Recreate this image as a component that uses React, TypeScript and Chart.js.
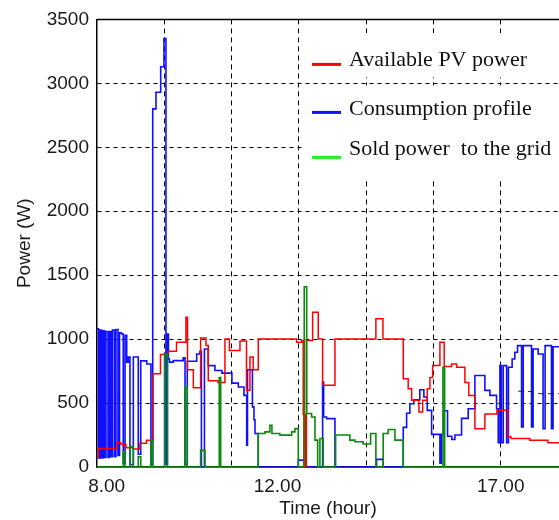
import React, { useEffect, useRef } from "react";
import { Chart, registerables } from "chart.js";

Chart.register(...registerables);

// x values are in sample units (gridline every 60 units)
const pvTime = [0, 1.3, 17.8, 21.4, 25.9, 32.1, 38.3, 44.1, 49.9, 56.6, 63.3, 70.9, 79.3, 80.7, 85.9, 92.4, 97.2, 99.2, 107.9, 114.1, 118.1, 127.5, 133.3, 136.4, 139.3, 143.8, 178.0, 182.5, 183.9, 184.5, 185.2, 185.8, 186.7, 192.3, 197.3, 201.2, 212.2, 248.7, 255.0, 273.1, 277.5, 280.6, 287.1, 290.4, 294.5, 296.9, 299.3, 305.8, 309.6, 316.2, 320.7, 328.1, 331.6, 337.0, 345.9, 356.6, 366.4, 369.1, 386.0, 402.1, 412];
const pvWatts = [80, 145, 190, 175, 150, 140, 185, 210, 730, 880, 905, 975, 1170, 760, 620, 1008, 950, 675, 660, 1000, 910, 985, 600, 860, 760, 1000, 975, 990, 410, 0, 410, 0, 990, 1210, 1000, 640, 1000, 1160, 1000, 690, 612, 521, 430, 521, 612, 700, 793, 975, 785, 806, 780, 660, 560, 300, 415, 443, 236, 223, 210, 190, 190];

const loadTime = [0, 1.3, 2.7, 4.0, 5.3, 6.7, 8.0, 9.8, 11.1, 12.5, 13.8, 15.6, 16.9, 18.7, 20.1, 22.0, 23.4, 25.0, 26.5, 27.9, 29.4, 32.4, 36.8, 39.0, 44.4, 48.1, 49.7, 52.6, 56.8, 59.7, 61.5, 62.7, 63.7, 64.6, 68.0, 76.9, 78.5, 80.5, 88.9, 91.8, 93.1, 95.8, 99.2, 105.2, 111.4, 120.3, 126.0, 131.1, 133.5, 134.2, 138.6, 140.0, 140.9, 143.8, 179.5, 184.8, 201.2, 202.1, 204.7, 212.2, 249.3, 255.2, 273.1, 276.1, 279.0, 282.6, 287.9, 291.5, 294.5, 298.4, 305.8, 307.1, 309.3, 312.6, 316.4, 319.2, 325.1, 331.0, 337.0, 345.9, 350.4, 356.3, 357.8, 359.3, 360.6, 362.3, 365.3, 366.9, 370.2, 372.6, 375.0, 378.6, 380.1, 387.5, 388.9, 393.4, 397.8, 399.6, 405.3, 406.7, 412];
const loadWatts = [1080, 70, 1070, 70, 1065, 75, 1060, 75, 1060, 80, 1070, 80, 1075, 90, 1050, 1040, 30, 1030, 820, 860, 20, 860, 100, 830, 805, 20, 2800, 2930, 3130, 3350, 20, 1040, 845, 820, 832, 853, 20, 827, 884, 905, 0, 923, 793, 754, 734, 656, 625, 560, 170, 760, 470, 370, 262, 0, 54, 0, 664, 391, 378, 0, 60, 0, 310, 420, 495, 525, 604, 547, 443, 255, 30, 255, 440, 240, 215, 250, 380, 456, 716, 599, 560, 456, 190, 793, 190, 793, 190, 780, 845, 897, 949, 313, 949, 313, 923, 884, 300, 949, 300, 940, 940];

const soldTime = [0, 23.4, 25.0, 29.4, 32.4, 36.8, 39.0, 48.1, 49.7, 60.2, 62.9, 78.5, 80.5, 92.4, 96.3, 109.0, 110.3, 143.8, 149.8, 154.2, 156.0, 163.1, 173.6, 176.5, 179.5, 184.8, 187.0, 191.4, 194.4, 196.8, 198.8, 201.7, 212.8, 225.5, 230.0, 237.4, 244.0, 248.7, 255.2, 259.7, 265.7, 273.1, 308.5, 310.0, 412];
const soldWatts = [0, 120, 0, 160, 0, 80, 0, 210, 0, 880, 0, 625, 0, 130, 0, 700, 0, 262, 275, 327, 262, 249, 275, 300, 0, 1410, 418, 391, 210, 0, 223, 0, 250, 210, 197, 180, 262, 0, 262, 293, 210, 0, 780, 0, 0];

const markTime = [375.6, 388, 395, 412];
const markWatts = [593, 590, 573, 573];

const seriesNames = ["Available PV power", "Consumption profile", "Sold power  to the grid"];
const lineColors = ["#ff0000", "#1010ff", "#0b8a0b"];
const legendColors = ["#ff0000", "#1010ff", "#22ee22"];

const gridTicks = [60, 120, 180, 240, 300, 360];
const labelTicks = [8.6, 160.9, 360];
const tickLabels = ["8.00", "12.00", "17.00"];
const xMin = 0;
const xMax = 412;
const yMax = 3500;
const yStep = 500;

const sansFont = 'Arial, "Liberation Sans", sans-serif';
const serifFont = '"Times New Roman", "Liberation Serif", serif';
const textColor = "#1a1a1a";

const toPoints = (t: number[], w: number[]) => t.map((x, i) => ({ x, y: w[i] }));

const framePlugin = {
  id: "frameAndLegend",
  afterDraw(chart: any) {
    const { ctx, chartArea } = chart;
    const { left, top, right } = chartArea;
    ctx.save();
    // top frame line
    ctx.strokeStyle = "#000";
    ctx.lineWidth = 1.5;
    ctx.beginPath();
    ctx.moveTo(left, top);
    ctx.lineTo(right, top);
    ctx.stroke();
    // legend backgrounds
    const lx = left + 206;
    ctx.fillStyle = "#fff";
    ctx.fillRect(lx, top + 14, right - lx, 44);
    ctx.fillRect(lx, top + 66, right - lx, 93);
    const lineY = [top + 45, top + 93, top + 138];
    const textY = [top + 47, top + 96, top + 136];
    ctx.font = `22px ${serifFont}`;
    ctx.textBaseline = "alphabetic";
    ctx.textAlign = "left";
    seriesNames.forEach((name, i) => {
      ctx.strokeStyle = legendColors[i];
      ctx.lineWidth = 3;
      ctx.beginPath();
      ctx.moveTo(lx + 9, lineY[i]);
      ctx.lineTo(lx + 38, lineY[i]);
      ctx.stroke();
      ctx.fillStyle = "#111";
      ctx.fillText(name, lx + 46, textY[i]);
    });
    ctx.restore();
  },
};

export default function App() {
  const ref = useRef<HTMLCanvasElement>(null);
  useEffect(() => {
    document.body.style.margin = "0";
    const allTicks = Array.from(new Set([xMin, ...gridTicks, ...labelTicks])).sort((a, b) => a - b);
    const chart = new Chart(ref.current as HTMLCanvasElement, {
      type: "line",
      data: {
        datasets: [
          { label: seriesNames[0], data: toPoints(pvTime, pvWatts), borderColor: lineColors[0], borderWidth: 1.5, stepped: true, pointRadius: 0, fill: false, order: 2, clip: 4 },
          { label: seriesNames[1], data: toPoints(loadTime, loadWatts), borderColor: lineColors[1], borderWidth: 1.6, stepped: true, pointRadius: 0, fill: false, order: 3, clip: 4 },
          { label: seriesNames[2], data: toPoints(soldTime, soldWatts), borderColor: lineColors[2], borderWidth: 1.6, stepped: true, pointRadius: 0, fill: false, order: 1, clip: 4 },
          { label: "", data: toPoints(markTime, markWatts), borderColor: "#222", borderWidth: 1, borderDash: [6, 4], pointRadius: 0, fill: false, order: 0 },
        ],
      } as any,
      options: {
        animation: false,
        responsive: false,
        events: [],
        layout: { padding: { top: 17, left: 0, right: 0, bottom: 0 } },
        plugins: { legend: { display: false }, tooltip: { enabled: false } },
        scales: {
          x: {
            type: "linear",
            min: xMin,
            max: xMax,
            afterBuildTicks: (s: any) => {
              s.ticks = allTicks.map((v) => ({ value: v }));
            },
            afterFit: (s: any) => {
              s.height = 53;
            },
            ticks: {
              autoSkip: false,
              maxRotation: 0,
              padding: 8,
              color: textColor,
              font: { family: sansFont, size: 19 },
              callback: (v: any) => {
                const i = labelTicks.indexOf(Number(v));
                return i >= 0 ? tickLabels[i] : "";
              },
            },
            grid: {
              drawTicks: false,
              lineWidth: 1,
              color: (c: any) => (c.tick && gridTicks.includes(c.tick.value) ? "#000" : "rgba(0,0,0,0)"),
            },
            border: { display: true, color: "#000", width: 1.5, dash: [5, 4] },
            title: { display: true, text: "Time (hour)", color: textColor, font: { family: sansFont, size: 19 }, padding: { top: 0, bottom: 0 } },
          },
          y: {
            type: "linear",
            min: 0,
            max: yMax,
            afterFit: (s: any) => {
              s.width = 97;
            },
            ticks: { stepSize: yStep, padding: 8, color: textColor, font: { family: sansFont, size: 19 }, callback: (v: any) => String(v) },
            grid: {
              drawTicks: false,
              lineWidth: 1,
              color: (c: any) => (c.tick && c.tick.value > 0 && c.tick.value < yMax ? "#000" : "rgba(0,0,0,0)"),
            },
            border: { display: true, color: "#000", width: 1.5, dash: [4, 4] },
            title: { display: true, text: "Power (W)", color: textColor, font: { family: sansFont, size: 19 }, padding: { top: 13, bottom: 0 } },
          },
        },
      } as any,
      plugins: [framePlugin],
    });
    return () => chart.destroy();
  }, []);
  return (
    <div style={{ position: "fixed", left: 0, top: 0, width: 559, height: 520, background: "#fff" }}>
      <canvas ref={ref} width={559} height={520} style={{ display: "block", width: 559, height: 520 }} />
    </div>
  );
}
